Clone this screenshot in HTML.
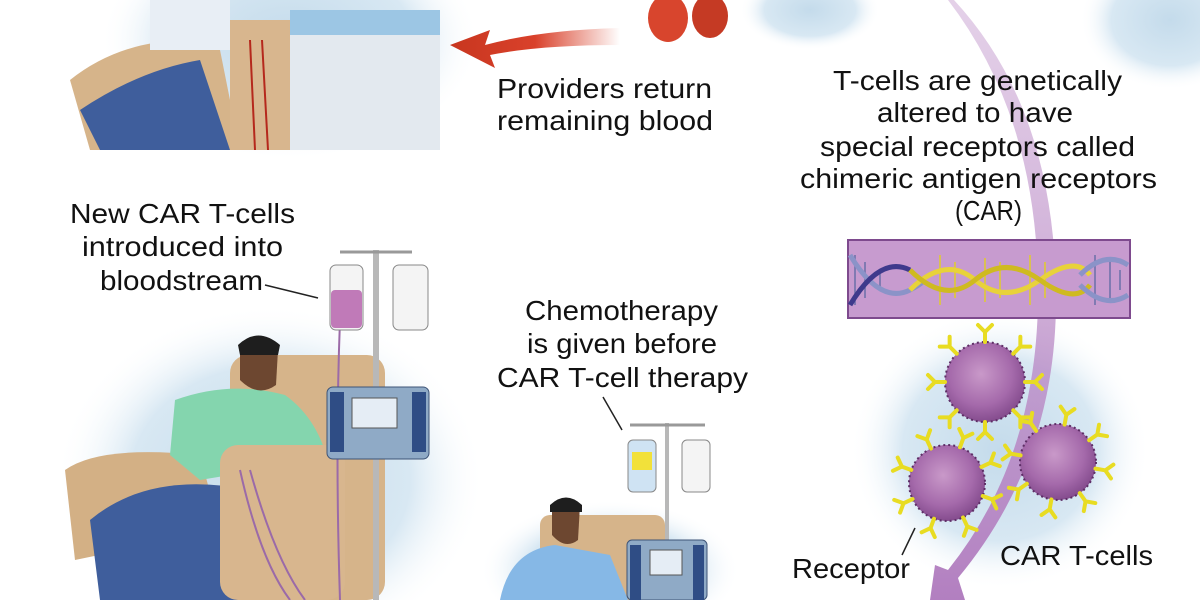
<!DOCTYPE html>
<html><head><meta charset="utf-8"><style>
html,body{margin:0;padding:0;background:#fff;width:1200px;height:600px;overflow:hidden}
svg{display:block}
text{font-family:"Liberation Sans",sans-serif;font-size:28px;fill:#111}
</style></head><body>
<svg width="1200" height="600" viewBox="0 0 1200 600" xmlns="http://www.w3.org/2000/svg">
<defs>
<radialGradient id="glow" cx="50%" cy="50%" r="50%">
<stop offset="0" stop-color="#c4dbeb"/><stop offset="0.65" stop-color="#d8e8f3"/><stop offset="1" stop-color="#fff" stop-opacity="0"/>
</radialGradient>
<radialGradient id="cell" cx="45%" cy="40%" r="65%">
<stop offset="0" stop-color="#c999c9"/><stop offset="0.6" stop-color="#a56aab"/><stop offset="1" stop-color="#7d4587"/>
</radialGradient>
<linearGradient id="redarrow" x1="1" x2="0"><stop offset="0" stop-color="#d9412b" stop-opacity="0"/><stop offset="0.5" stop-color="#d9412b"/><stop offset="1" stop-color="#c8361f"/></linearGradient>
<linearGradient id="purp" x1="0" y1="0" x2="0" y2="1"><stop offset="0" stop-color="#c9a3d2" stop-opacity="0.5"/><stop offset="1" stop-color="#b27fc0"/></linearGradient>
<g id="Y"><path d="M0 0 L0 -10 M0 -10 L-7 -17 M0 -10 L7 -17" stroke="#e8dc22" stroke-width="4" fill="none" stroke-linecap="round"/></g>
</defs>

<!-- top-left glow and patient -->
<ellipse cx="290" cy="40" rx="190" ry="120" fill="url(#glow)"/>
<ellipse cx="1170" cy="20" rx="90" ry="70" fill="url(#glow)"/>
<ellipse cx="810" cy="10" rx="70" ry="40" fill="url(#glow)"/>
<path d="M70 80 Q120 40 190 40 L220 50 L240 150 L90 150 Z" fill="#d6b48a"/>
<path d="M80 110 Q140 70 200 60 L230 150 L100 150 Z" fill="#3f5e9c"/>
<rect x="150" y="0" width="80" height="50" fill="#e8eef5"/>
<rect x="230" y="20" width="60" height="130" fill="#d8b68e"/>
<rect x="290" y="20" width="150" height="130" fill="#e3e9ef"/>
<rect x="290" y="10" width="150" height="25" fill="#9cc6e4"/>
<path d="M250 40 L255 150 M262 40 L268 150" stroke="#b5281c" stroke-width="2" fill="none"/>
<!-- red arrow -->
<path d="M620 28 Q540 30 485 45 L490 30 L450 45 L495 68 L490 55 Q540 45 620 45 Z" fill="url(#redarrow)"/>
<ellipse cx="668" cy="18" rx="20" ry="24" fill="#d8452d"/>
<ellipse cx="710" cy="16" rx="18" ry="22" fill="#c53a24"/>

<text x="497" y="98" textLength="215" lengthAdjust="spacingAndGlyphs">Providers return</text>
<text x="497" y="130" textLength="216" lengthAdjust="spacingAndGlyphs">remaining blood</text>

<!-- cell glow -->
<ellipse cx="1000" cy="450" rx="150" ry="140" fill="url(#glow)"/>

<!-- purple arrow -->
<path d="M948 0 Q1040 120 1038 300 Q1036 460 948 570 L935 565 L930 600 L965 600 L958 578 Q1056 460 1056 300 Q1056 110 954 0 Z" fill="url(#purp)"/>

<text x="833" y="90" textLength="289" lengthAdjust="spacingAndGlyphs">T-cells are genetically</text>
<text x="877" y="122" textLength="196" lengthAdjust="spacingAndGlyphs">altered to have</text>
<text x="820" y="156" textLength="315" lengthAdjust="spacingAndGlyphs">special receptors called</text>
<text x="800" y="188" textLength="357" lengthAdjust="spacingAndGlyphs">chimeric antigen receptors</text>
<text x="955" y="220" textLength="67" lengthAdjust="spacingAndGlyphs">(CAR)</text>

<!-- DNA box -->
<rect x="848" y="240" width="282" height="78" fill="#c79bcf" stroke="#7e4a8e" stroke-width="2"/>
<g stroke-width="1.5" stroke="#6a6fa8">
<path d="M855 255 V305 M865 262 V298 M880 270 V290 M1095 255 V305 M1110 262 V298 M1120 270 V290"/>
</g>
<g stroke="#e0cc2a" stroke-width="1.5">
<path d="M940 255 V305 M955 262 V298 M985 258 V302 M1000 262 V298 M1030 255 V305 M1045 262 V298"/>
</g>
<path d="M850 255 Q880 305 910 290 Q920 285 925 280" stroke="#8b93c8" stroke-width="5" fill="none"/>
<path d="M850 305 Q880 255 910 270" stroke="#3e3a8c" stroke-width="5" fill="none"/>
<path d="M910 290 Q945 255 975 280 T1040 280 T1090 275" stroke="#e8d23a" stroke-width="5" fill="none"/>
<path d="M910 270 Q945 305 975 280 T1040 280 T1090 285" stroke="#cfba20" stroke-width="5" fill="none"/>
<path d="M1080 275 Q1105 250 1128 265 M1080 285 Q1105 310 1128 295" stroke="#8b93c8" stroke-width="5" fill="none"/>

<!-- T-cells -->
<g>
<circle cx="985" cy="382" r="40" fill="url(#cell)" stroke="#5d2e66" stroke-width="2" stroke-dasharray="2 3"/>
<g transform="translate(985,382)">
<use href="#Y" transform="rotate(0) translate(0,-40)"/><use href="#Y" transform="rotate(45) translate(0,-40)"/><use href="#Y" transform="rotate(90) translate(0,-40)"/><use href="#Y" transform="rotate(135) translate(0,-40)"/><use href="#Y" transform="rotate(180) translate(0,-40)"/><use href="#Y" transform="rotate(225) translate(0,-40)"/><use href="#Y" transform="rotate(270) translate(0,-40)"/><use href="#Y" transform="rotate(315) translate(0,-40)"/>
</g>
<circle cx="947" cy="483" r="38" fill="url(#cell)" stroke="#5d2e66" stroke-width="2" stroke-dasharray="2 3"/>
<g transform="translate(947,483)">
<use href="#Y" transform="rotate(20) translate(0,-38)"/><use href="#Y" transform="rotate(65) translate(0,-38)"/><use href="#Y" transform="rotate(110) translate(0,-38)"/><use href="#Y" transform="rotate(155) translate(0,-38)"/><use href="#Y" transform="rotate(200) translate(0,-38)"/><use href="#Y" transform="rotate(245) translate(0,-38)"/><use href="#Y" transform="rotate(290) translate(0,-38)"/><use href="#Y" transform="rotate(335) translate(0,-38)"/>
</g>
<circle cx="1058" cy="462" r="38" fill="url(#cell)" stroke="#5d2e66" stroke-width="2" stroke-dasharray="2 3"/>
<g transform="translate(1058,462)">
<use href="#Y" transform="rotate(10) translate(0,-38)"/><use href="#Y" transform="rotate(55) translate(0,-38)"/><use href="#Y" transform="rotate(100) translate(0,-38)"/><use href="#Y" transform="rotate(145) translate(0,-38)"/><use href="#Y" transform="rotate(190) translate(0,-38)"/><use href="#Y" transform="rotate(235) translate(0,-38)"/><use href="#Y" transform="rotate(280) translate(0,-38)"/><use href="#Y" transform="rotate(325) translate(0,-38)"/>
</g>
</g>
<line x1="902" y1="555" x2="915" y2="528" stroke="#222" stroke-width="1.5"/>
<text x="792" y="578" textLength="118" lengthAdjust="spacingAndGlyphs">Receptor</text>
<text x="1000" y="565" textLength="153" lengthAdjust="spacingAndGlyphs">CAR T-cells</text>

<!-- lower-left patient -->
<ellipse cx="270" cy="480" rx="215" ry="175" fill="url(#glow)"/>
<rect x="230" y="355" width="155" height="245" rx="18" fill="#d6b48a"/>
<path d="M65 470 Q100 445 200 455 L220 530 L75 560 Z" fill="#d3b085"/>
<path d="M175 400 Q230 380 285 395 Q320 420 330 470 L300 480 L260 470 L200 480 L170 455 Z" fill="#84d5ae"/>
<path d="M240 350 Q260 330 278 350 L276 385 Q258 398 240 380 Z" fill="#6d4730"/>
<path d="M238 345 Q258 326 280 345 L278 355 L240 355 Z" fill="#1e1e1e"/>
<path d="M90 520 Q150 470 250 490 L250 600 L100 600 Z" fill="#3f5e9c"/>
<rect x="220" y="445" width="125" height="155" rx="18" fill="#d8b68e"/>
<path d="M240 470 Q260 560 290 600 M250 470 Q275 560 305 600" stroke="#9b6aa8" stroke-width="2" fill="none"/>
<path d="M340 320 Q335 450 340 600" stroke="#9b6aa8" stroke-width="2" fill="none"/>
<rect x="373" y="250" width="6" height="350" fill="#b8b8b8"/>
<path d="M340 252 H412" stroke="#999" stroke-width="3"/>
<rect x="330" y="265" width="33" height="65" rx="6" fill="#f4f4f4" stroke="#888"/>
<rect x="331" y="290" width="31" height="38" rx="4" fill="#c07ab8"/>
<rect x="393" y="265" width="35" height="65" rx="6" fill="#f4f4f4" stroke="#888"/>
<rect x="327" y="387" width="102" height="72" rx="6" fill="#8faac6" stroke="#3e5477"/>
<rect x="330" y="392" width="14" height="60" fill="#2f4d85"/>
<rect x="412" y="392" width="14" height="60" fill="#2f4d85"/>
<rect x="352" y="398" width="45" height="30" fill="#e5edf5" stroke="#555"/>
<line x1="265" y1="285" x2="318" y2="298" stroke="#222" stroke-width="1.5"/>
<text x="70" y="223" textLength="225" lengthAdjust="spacingAndGlyphs">New CAR T-cells</text>
<text x="82" y="256" textLength="201" lengthAdjust="spacingAndGlyphs">introduced into</text>
<text x="100" y="290" textLength="163" lengthAdjust="spacingAndGlyphs">bloodstream</text>

<!-- chemo patient -->
<ellipse cx="610" cy="570" rx="130" ry="70" fill="url(#glow)"/>
<rect x="540" y="515" width="125" height="85" rx="10" fill="#d6b48a"/>
<rect x="665" y="423" width="4" height="177" fill="#b8b8b8"/>
<path d="M630 425 H705" stroke="#999" stroke-width="3"/>
<rect x="628" y="440" width="28" height="52" rx="5" fill="#cfe3f3" stroke="#888"/>
<rect x="632" y="452" width="20" height="18" fill="#f2e13a"/>
<rect x="682" y="440" width="28" height="52" rx="5" fill="#f4f4f4" stroke="#888"/>
<path d="M552 505 Q566 492 580 505 L578 540 Q565 550 552 535 Z" fill="#6d4730"/>
<path d="M550 505 Q566 490 582 505 L582 512 L550 512 Z" fill="#1e1e1e"/>
<path d="M500 600 Q510 550 555 545 L610 555 L628 600 Z" fill="#86b8e6"/>
<rect x="627" y="540" width="80" height="60" rx="5" fill="#8faac6" stroke="#3e5477"/>
<rect x="630" y="545" width="11" height="55" fill="#2f4d85"/>
<rect x="693" y="545" width="11" height="55" fill="#2f4d85"/>
<rect x="650" y="550" width="32" height="25" fill="#e5edf5" stroke="#555"/>
<line x1="603" y1="397" x2="622" y2="430" stroke="#222" stroke-width="1.5"/>
<text x="525" y="320" textLength="193" lengthAdjust="spacingAndGlyphs">Chemotherapy</text>
<text x="527" y="353" textLength="190" lengthAdjust="spacingAndGlyphs">is given before</text>
<text x="497" y="387" textLength="251" lengthAdjust="spacingAndGlyphs">CAR T-cell therapy</text>
</svg>
</body></html>
